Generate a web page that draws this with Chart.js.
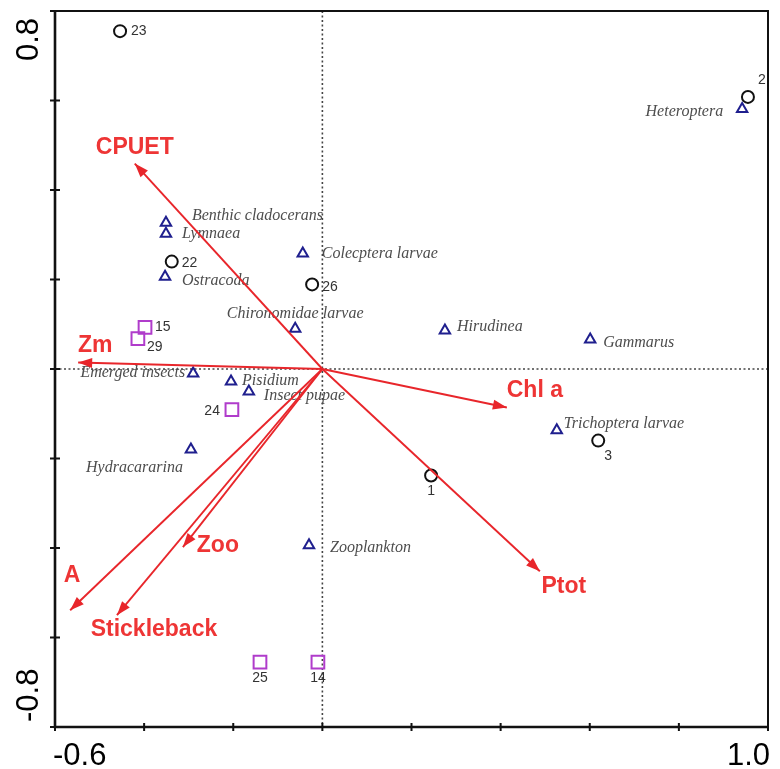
<!DOCTYPE html>
<html>
<head>
<meta charset="utf-8">
<script src="https://cdn.jsdelivr.net/npm/chart.js@4/dist/chart.umd.min.js"></script>
<style>
  html, body { margin: 0; padding: 0; background: #ffffff; }
  canvas { display: block; }
</style>
</head>
<body>
<canvas id="rda" width="780" height="769"></canvas>
<script>
// Axis extents and tick marks
const xRange = [-0.6, 1.0];
const yRange = [-0.8, 0.8];
const xTickValues = [-0.6, -0.4, -0.2, 0, 0.2, 0.4, 0.6, 0.8, 1.0];
const yTickValues = [-0.8, -0.6, -0.4, -0.2, 0, 0.2, 0.4, 0.6, 0.8];
const xLabelValues = [-0.6, 1.0];
const xLabelTexts = ['-0.6', '1.0'];
const yLabelValues = [0.8, -0.8];
const yLabelTexts = ['0.8', '-0.8'];

// Sampling sites (circles)
const siteIds = ['23', '2', '22', '26', '1', '3'];
const siteX = [-0.454, 0.955, -0.338, -0.023, 0.244, 0.619];
const siteY = [0.755, 0.608, 0.240, 0.189, -0.238, -0.160];

// Sampling sites (squares)
const squareIds = ['15', '29', '24', '25', '14'];
const squareX = [-0.398, -0.414, -0.203, -0.140, -0.010];
const squareY = [0.093, 0.068, -0.091, -0.655, -0.655];

// Invertebrate taxa (triangles)
const taxaNames = ['Heteroptera', 'Benthic cladocerans', 'Lymnaea', 'Ostracoda', 'Colecptera larvae',
  'Chironomidae larvae', 'Hirudinea', 'Gammarus', 'Emerged insects', 'Pisidium', 'Insect pupae',
  'Hydracararina', 'Trichoptera larvae', 'Zooplankton'];
const taxaX = [0.942, -0.351, -0.351, -0.353, -0.044, -0.061, 0.275, 0.601, -0.290, -0.205, -0.165, -0.295, 0.526, -0.030];
const taxaY = [0.581, 0.327, 0.302, 0.206, 0.258, 0.090, 0.086, 0.066, -0.010, -0.028, -0.050, -0.180, -0.137, -0.394];

// Environmental variables (arrows from the origin)
const envNames = ['CPUET', 'Zm', 'Chl a', 'Ptot', 'Zoo', 'A', 'Stickleback'];
const envX = [-0.421, -0.548, 0.414, 0.488, -0.313, -0.566, -0.461];
const envY = [0.459, 0.0145, -0.086, -0.452, -0.398, -0.539, -0.550];

// Label placement: [dx, dy, textAlign] in pixels relative to the mark
const siteLabelPlace = [[11, 0, 'left'], [10, -17, 'left'], [10, 2, 'left'], [10, 3, 'left'], [0, 16, 'center'], [10, 16, 'center']];
const squareLabelPlace = [[10, 0, 'left'], [9, 9, 'left'], [-12, 1, 'right'], [0, 16, 'center'], [0, 16, 'center']];
const taxaLabelPlace = [[-19, 3, 'right'], [26, -7, 'left'], [16, 0, 'left'], [17, 4, 'left'], [19, 0, 'left'],
  [0, -15, 'center'], [12, -4, 'left'], [13, 3, 'left'], [-8, -1, 'right'], [11, -1, 'left'], [15, 4, 'left'],
  [-8, 18, 'right'], [7, -7, 'left'], [21, 2, 'left']];
const envLabelPlace = [[0, -16], [17, -17], [28, -17], [24, 15], [35, -1], [2, -35], [37, 15]];

const RED = '#e8262b';
const RED_TEXT = '#ee3535';

const toPoints = (xs, ys) => xs.map((x, i) => ({ x: x, y: ys[i] }));

const arrowSets = envNames.map((name, i) => ({
  type: 'line',
  label: name,
  data: [{ x: 0, y: 0 }, { x: envX[i], y: envY[i] }],
  borderColor: RED,
  borderWidth: 1.9,
  pointRadius: 0,
  fill: false,
  tension: 0,
  clip: false,
  order: 1
}));

const ordinationPlot = {
  id: 'ordinationPlot',
  beforeDatasetsDraw(chart) {
    const { ctx, chartArea: a, scales: { x, y } } = chart;
    const x0 = x.getPixelForValue(0), y0 = y.getPixelForValue(0);
    ctx.save();
    // dotted zero lines
    ctx.strokeStyle = '#444';
    ctx.lineWidth = 1.6;
    ctx.setLineDash([2, 2.5]);
    ctx.beginPath();
    ctx.moveTo(a.left, y0); ctx.lineTo(a.right, y0);
    ctx.moveTo(x0, a.top); ctx.lineTo(x0, a.bottom);
    ctx.stroke();
    ctx.setLineDash([]);

    // taxa names
    ctx.font = 'italic 16px "Liberation Serif", "DejaVu Serif", serif';
    ctx.fillStyle = '#4d4d4d';
    ctx.textBaseline = 'middle';
    taxaNames.forEach((n, i) => {
      const p = taxaLabelPlace[i];
      ctx.textAlign = p[2];
      ctx.fillText(n, x.getPixelForValue(taxaX[i]) + p[0], y.getPixelForValue(taxaY[i]) + p[1]);
    });

    // site numbers
    ctx.font = '14px "Liberation Sans", Arial, sans-serif';
    ctx.fillStyle = '#333';
    siteIds.forEach((n, i) => {
      const p = siteLabelPlace[i];
      ctx.textAlign = p[2];
      ctx.fillText(n, x.getPixelForValue(siteX[i]) + p[0], y.getPixelForValue(siteY[i]) + p[1]);
    });
    squareIds.forEach((n, i) => {
      const p = squareLabelPlace[i];
      ctx.textAlign = p[2];
      ctx.fillText(n, x.getPixelForValue(squareX[i]) + p[0], y.getPixelForValue(squareY[i]) + p[1]);
    });
    ctx.restore();
  },
  afterDatasetsDraw(chart) {
    const { ctx, chartArea: a, scales: { x, y } } = chart;
    const x0 = x.getPixelForValue(0), y0 = y.getPixelForValue(0);
    ctx.save();
    // arrowheads and variable names
    envNames.forEach((n, i) => {
      const tx = x.getPixelForValue(envX[i]), ty = y.getPixelForValue(envY[i]);
      const ang = Math.atan2(ty - y0, tx - x0);
      const len = 14, half = 5;
      ctx.fillStyle = RED;
      ctx.beginPath();
      ctx.moveTo(tx, ty);
      ctx.lineTo(tx - len * Math.cos(ang) + half * Math.sin(ang), ty - len * Math.sin(ang) - half * Math.cos(ang));
      ctx.lineTo(tx - len * Math.cos(ang) - half * Math.sin(ang), ty - len * Math.sin(ang) + half * Math.cos(ang));
      ctx.closePath();
      ctx.fill();
      const p = envLabelPlace[i];
      ctx.font = 'bold 23px "Liberation Sans", Arial, sans-serif';
      ctx.fillStyle = RED_TEXT;
      ctx.textAlign = 'center';
      ctx.textBaseline = 'middle';
      ctx.fillText(n, tx + p[0], ty + p[1]);
    });

    // frame
    ctx.strokeStyle = '#111';
    ctx.lineWidth = 2;
    ctx.strokeRect(a.left, a.top, a.right - a.left, a.bottom - a.top);
    ctx.lineWidth = 2.6;
    ctx.beginPath();
    ctx.moveTo(a.left, a.top); ctx.lineTo(a.left, a.bottom); ctx.lineTo(a.right, a.bottom);
    ctx.stroke();

    // tick marks crossing the axes
    ctx.lineWidth = 2;
    ctx.beginPath();
    xTickValues.forEach(v => {
      const px = x.getPixelForValue(v);
      ctx.moveTo(px, a.bottom - 4); ctx.lineTo(px, a.bottom + 4);
    });
    yTickValues.forEach(v => {
      const py = y.getPixelForValue(v);
      ctx.moveTo(a.left - 5, py); ctx.lineTo(a.left + 5, py);
    });
    ctx.stroke();

    // end labels of the axes
    ctx.fillStyle = '#000';
    ctx.font = '31px "Liberation Sans", Arial, sans-serif';
    ctx.textBaseline = 'alphabetic';
    xLabelValues.forEach((v, i) => {
      const px = x.getPixelForValue(v);
      const first = i === 0;
      ctx.textAlign = first ? 'left' : 'right';
      ctx.fillText(xLabelTexts[i], first ? px - 2 : px + 2, a.bottom + 38);
    });
    yLabelValues.forEach((v, i) => {
      const py = y.getPixelForValue(v);
      const top = v > 0;
      ctx.save();
      ctx.translate(a.left - 17, top ? py + 7 : py - 5);
      ctx.rotate(-Math.PI / 2);
      ctx.textAlign = top ? 'right' : 'left';
      ctx.fillText(yLabelTexts[i], 0, 0);
      ctx.restore();
    });
    ctx.restore();
  }
};

new Chart(document.getElementById('rda'), {
  type: 'scatter',
  data: {
    datasets: [
      ...arrowSets,
      {
        label: 'Sites',
        data: toPoints(siteX, siteY),
        pointStyle: 'circle',
        pointRadius: 6,
        borderWidth: 2,
        borderColor: '#111',
        backgroundColor: 'rgba(0,0,0,0)',
        clip: false,
        order: 2
      },
      {
        label: 'Sites (squares)',
        data: toPoints(squareX, squareY),
        pointStyle: 'rect',
        pointRadius: 9,
        borderWidth: 2,
        borderColor: '#b03ccb',
        backgroundColor: 'rgba(0,0,0,0)',
        clip: false,
        order: 2
      },
      {
        label: 'Taxa',
        data: toPoints(taxaX, taxaY),
        pointStyle: 'triangle',
        pointRadius: 6,
        borderWidth: 2,
        borderColor: '#1f1f8e',
        backgroundColor: 'rgba(0,0,0,0)',
        clip: false,
        order: 2
      }
    ]
  },
  options: {
    responsive: false,
    devicePixelRatio: 1,
    animation: false,
    layout: { padding: { left: 55, top: 10, right: 12, bottom: 42 } },
    plugins: { legend: { display: false }, tooltip: { enabled: false } },
    scales: {
      x: { type: 'linear', min: xRange[0], max: xRange[1], display: false },
      y: { type: 'linear', min: yRange[0], max: yRange[1], display: false }
    }
  },
  plugins: [ordinationPlot]
});
</script>
</body>
</html>
